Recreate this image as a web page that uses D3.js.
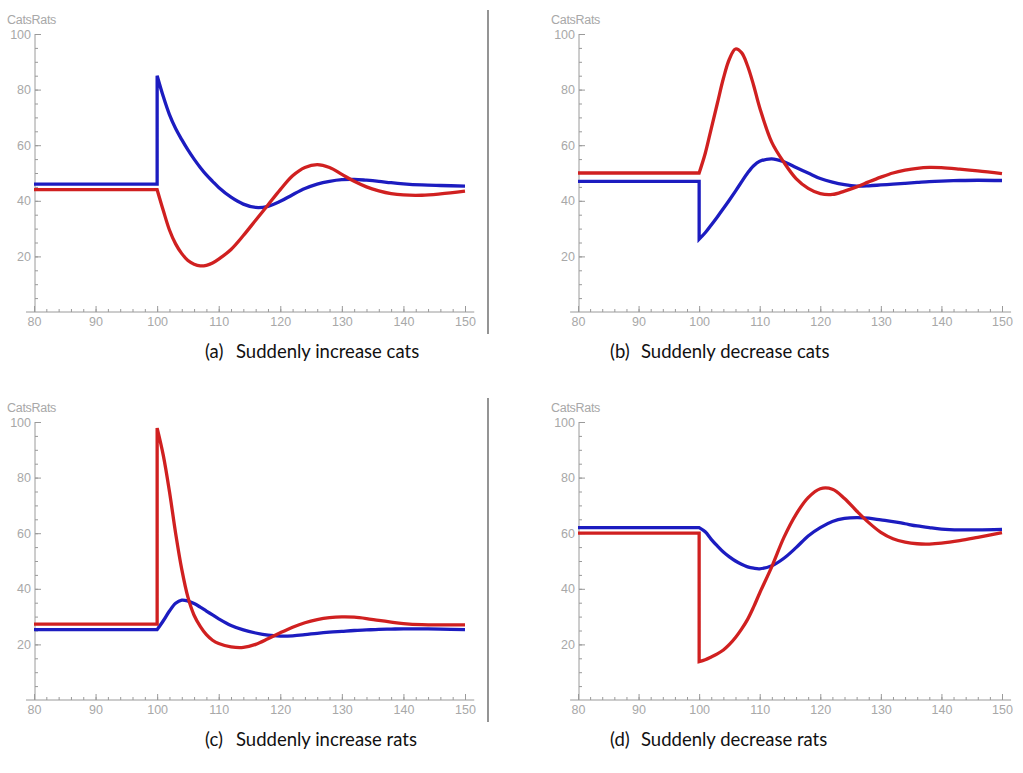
<!DOCTYPE html>
<html>
<head>
<meta charset="utf-8">
<script src="https://cdn.jsdelivr.net/npm/d3@7"></script>
<style>
body { margin: 0; background: #fff; }
svg { display: block; }
</style>
</head>
<body>
<svg width="1023" height="773"></svg>
<script>
// time grid (100 appears twice: value just before and just after the sudden change)
const times = [80, 100, 100, 101, 102, 103, 104, 105, 106, 107, 108, 109, 110, 112, 114, 116, 118, 120, 122, 124, 126, 128, 130, 132, 134, 136, 138, 140, 143, 146, 150];

// (a) suddenly increase cats
const catsA = [46, 46, 85, 77.5, 71, 66, 62, 58.3, 55, 52, 49.3, 47, 44.8, 41.3, 38.8, 37.6, 38, 39.8, 42.2, 44.4, 46, 47, 47.6, 47.7, 47.4, 47, 46.5, 46.1, 45.7, 45.5, 45.3];
const ratsA = [44, 44, 44, 36.5, 29.5, 24.5, 21, 18.5, 17.2, 16.6, 16.8, 17.6, 19, 22.5, 27.5, 33, 38.5, 44, 49, 52, 53, 52, 49.5, 47, 45, 43.6, 42.6, 42.1, 42, 42.5, 43.5];

// (b) suddenly decrease cats
const catsB = [47, 47, 26.2, 28.5, 31.3, 34.2, 37.2, 40.3, 43.5, 46.8, 50, 52.6, 54.2, 55.1, 54, 52, 50, 48, 46.7, 45.8, 45.3, 45.4, 45.7, 46, 46.3, 46.6, 46.9, 47.1, 47.3, 47.4, 47.3];
const ratsB = [50, 50, 50, 57, 66, 75, 84, 91, 94.6, 93.3, 88.5, 81.5, 73.5, 61, 53.8, 48, 44.5, 42.6, 42.3, 43.5, 45, 46.8, 48.5, 50, 51, 51.7, 52, 51.9, 51.4, 50.8, 49.8];

// (c) suddenly increase rats
const catsC = [25.3, 25.3, 25.3, 28.5, 32, 34.8, 35.9, 35.6, 34.7, 33.4, 32, 30.6, 29.2, 26.8, 25.2, 24.1, 23.3, 23, 23.1, 23.5, 24, 24.4, 24.7, 25, 25.2, 25.4, 25.5, 25.6, 25.6, 25.5, 25.3];
const ratsC = [27.3, 27.3, 97.8, 88, 75, 60, 47, 37, 30.5, 26.5, 23.5, 21.5, 20.3, 19.1, 18.9, 20, 22, 24.2, 26.2, 27.8, 28.9, 29.6, 29.9, 29.8, 29.3, 28.6, 28, 27.5, 27.1, 27, 27];

// (d) suddenly decrease rats
const catsD = [62, 62, 62, 60.5, 57.8, 55.4, 53.2, 51.5, 50, 48.8, 47.9, 47.4, 47.2, 48.3, 51, 54.8, 59, 62, 64.2, 65.3, 65.6, 65.4, 64.8, 64.2, 63.4, 62.6, 62, 61.5, 61.2, 61.2, 61.4];
const ratsD = [60, 60, 13.8, 14.5, 15.5, 16.6, 18, 20, 22.5, 25.5, 29, 33.5, 38.5, 48, 58.5, 66.8, 72.8, 76, 75.8, 72.5, 68, 63.8, 60.3, 58, 56.8, 56.2, 56.1, 56.4, 57.3, 58.5, 60.2];

const xTicks = [80, 90, 100, 110, 120, 130, 140, 150];
const yTicks = [20, 40, 60, 80, 100];
const letters = ["(a)", "(b)", "(c)", "(d)"];
const captions = ["Suddenly increase cats", "Suddenly decrease cats", "Suddenly increase rats", "Suddenly decrease rats"];
const yLabel = "CatsRats";

const svg = d3.select("svg");

const panels = [
  { cats: catsA, rats: ratsA, xr: [34, 465], yr: [312, 34], cx: 205, cy: 358 },
  { cats: catsB, rats: ratsB, xr: [578, 1002], yr: [312, 34], cx: 610, cy: 358 },
  { cats: catsC, rats: ratsC, xr: [34, 465], yr: [700, 422], cx: 205, cy: 746 },
  { cats: catsD, rats: ratsD, xr: [578, 1002], yr: [700, 422], cx: 610, cy: 746 }
];

const axisColor = "#9a9a9a";
const labelFont = "Liberation Sans, Arial, sans-serif";

panels.forEach((p, i) => {
  const x = d3.scaleLinear().domain([80, 150]).range(p.xr);
  const y = d3.scaleLinear().domain([0, 100]).range(p.yr);
  const g = svg.append("g");
  const x0 = x(80) + 1;
  const y0 = y(0);

  // x axis line
  g.append("line")
    .attr("x1", x(78.7)).attr("x2", x(151.5))
    .attr("y1", y0).attr("y2", y0)
    .attr("stroke", axisColor).attr("stroke-width", 1);

  // y axis line
  g.append("line")
    .attr("x1", x0).attr("x2", x0)
    .attr("y1", y0).attr("y2", y(100))
    .attr("stroke", axisColor).attr("stroke-width", 1);

  // x minor ticks
  g.append("g")
    .attr("transform", `translate(0,${y0})`)
    .call(d3.axisBottom(x).tickValues(d3.range(80, 151, 2)).tickSizeInner(-3).tickSizeOuter(0).tickFormat(""))
    .call(s => s.select(".domain").remove());

  // x major ticks + labels
  g.append("g")
    .attr("transform", `translate(0,${y0})`)
    .call(d3.axisBottom(x).tickValues(xTicks).tickSizeInner(-6).tickSizeOuter(0).tickPadding(5))
    .call(s => s.select(".domain").remove());

  // y minor ticks
  g.append("g")
    .attr("transform", `translate(${x0},0)`)
    .call(d3.axisLeft(y).tickValues(d3.range(5, 100, 5)).tickSizeInner(-3).tickSizeOuter(0).tickFormat(""))
    .call(s => s.select(".domain").remove());

  // y major ticks + labels
  g.append("g")
    .attr("transform", `translate(${x0},0)`)
    .call(d3.axisLeft(y).tickValues(yTicks).tickSizeInner(-6).tickSizeOuter(0).tickPadding(4))
    .call(s => s.select(".domain").remove());

  g.selectAll(".tick line").attr("stroke", axisColor);
  g.selectAll(".tick text")
    .attr("fill", "#a8a8a8")
    .style("font-family", labelFont)
    .style("font-size", "12.5px");

  g.append("text")
    .attr("x", x0 - 28).attr("y", y(100) - 10)
    .attr("fill", "#a8a8a8")
    .style("font-family", labelFont)
    .style("font-size", "12.5px")
    .style("letter-spacing", "-0.3px")
    .text(yLabel);

  // curves: flat part + jump drawn straight, response drawn smooth
  const pts = s => times.map((t, k) => [x(t), y(s[k])]);
  const straight = d3.line();
  const smooth = d3.line().curve(d3.curveCatmullRom.alpha(0.5));
  const pathFor = s => {
    const a = pts(s);
    return straight(a.slice(0, 3)) + smooth(a.slice(2)).replace(/^M/, "L");
  };

  g.append("path")
    .attr("d", pathFor(p.cats))
    .attr("fill", "none")
    .attr("stroke", "#1c1cc0")
    .attr("stroke-width", 3.3)
    .attr("stroke-linejoin", "miter");

  g.append("path")
    .attr("d", pathFor(p.rats))
    .attr("fill", "none")
    .attr("stroke", "#d02020")
    .attr("stroke-width", 3.3)
    .attr("stroke-linejoin", "miter");

  // caption
  svg.append("text")
    .attr("x", p.cx).attr("y", p.cy)
    .style("font-family", "Lato, 'Open Sans', sans-serif")
    .style("font-size", "18.5px")
    .attr("fill", "#111")
    .text(letters[i]);
  svg.append("text")
    .attr("x", p.cx + 31).attr("y", p.cy)
    .style("font-family", "Lato, 'Open Sans', sans-serif")
    .style("font-size", "18.5px")
    .attr("fill", "#111")
    .text(captions[i]);
});

// column dividers
[[10, 334], [398, 722]].forEach(([a, b]) => {
  svg.append("line")
    .attr("x1", 488).attr("x2", 488)
    .attr("y1", a).attr("y2", b)
    .attr("stroke", "#7a7a7a")
    .attr("stroke-width", 1.6);
});
</script>
</body>
</html>
